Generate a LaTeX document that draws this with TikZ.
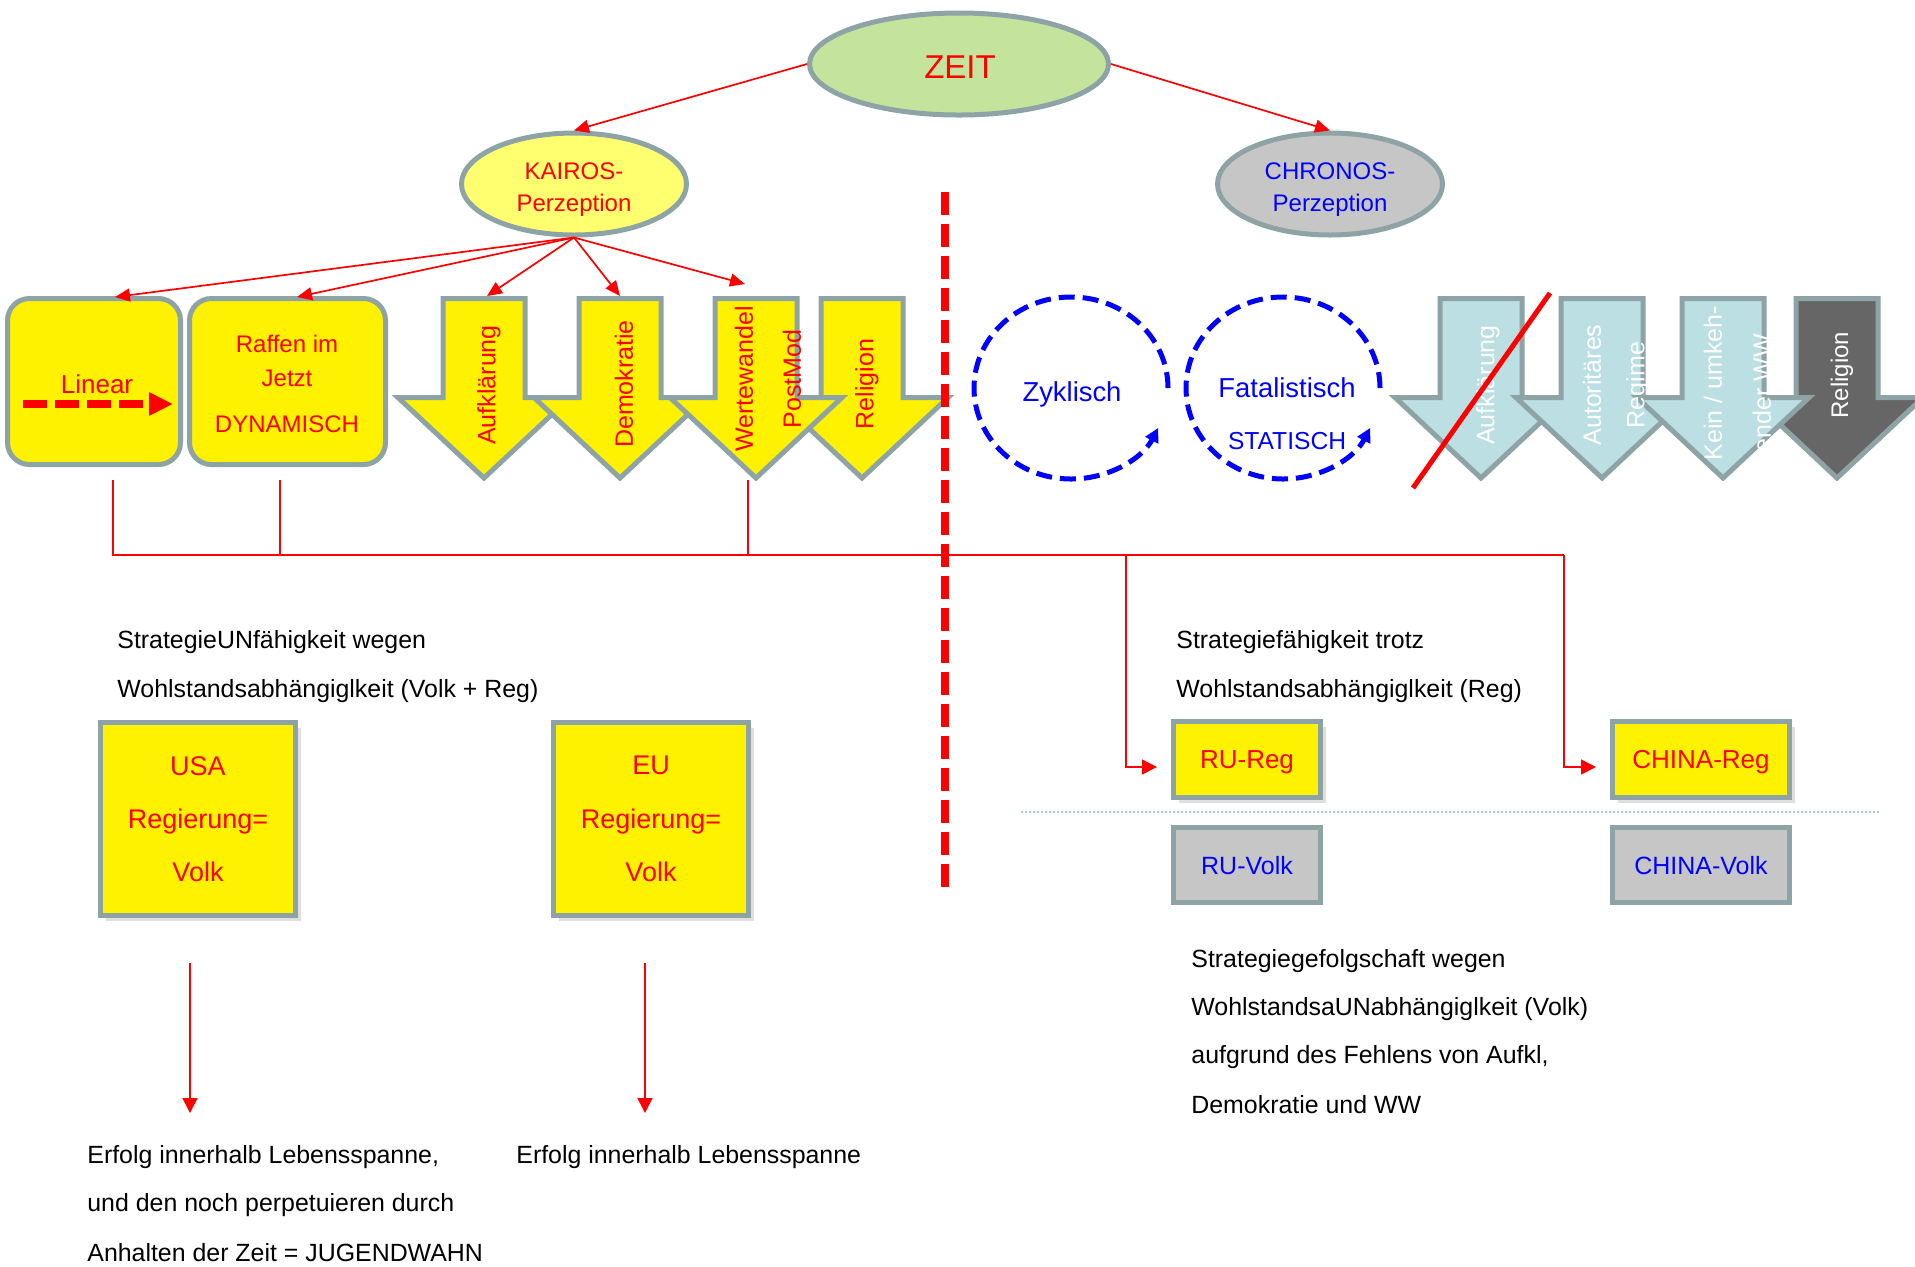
\documentclass[tikz,border=0pt]{standalone}
\usepackage{fontspec}
\setmainfont{Liberation Sans}
\usetikzlibrary{arrows.meta,shapes.geometric,shadows}
\definecolor{bord}{HTML}{8DA3A6}
\definecolor{zgreen}{HTML}{C4E49E}
\definecolor{kyel}{HTML}{FFFF70}
\definecolor{cgrey}{HTML}{C6C6C6}
\definecolor{lblue}{HTML}{BBDFE3}
\definecolor{dgrey}{HTML}{666666}
\definecolor{dotblue}{HTML}{9FD0D8}
\newcommand\fs[1]{\fontsize{#1pt}{#1pt}\selectfont}
\newcommand\dnarrow[2]{\draw[arrbord, fill=#2] ({#1-41},298.5) -- ({#1+41},298.5) -- ({#1+41},397.5) -- ({#1+86},397.5) -- (#1,478) -- ({#1-86},397.5) -- ({#1-41},397.5) -- cycle;}
\begin{document}
\begin{tikzpicture}[x=0.5pt,y=-0.5pt,
  ell/.style={ellipse, draw=bord, line width=2.5pt, inner sep=0},
  rbox/.style={rectangle, draw=bord, line width=2.5pt, inner sep=0, text depth=0pt},
  conn/.style={draw=red, line width=0.85pt, -{Triangle[length=7.5pt,width=6.5pt]}},
  bus/.style={draw=red, line width=0.75pt},
  bustip/.style={bus, -{Triangle[length=7.5pt,width=7.5pt]}},
  arrbord/.style={draw=bord, line width=2.5pt, line join=miter},
  albl/.style={rotate=90, font=\fs{12.5}, inner sep=0},
  body/.style={anchor=west, inner sep=0, font=\fs{12.45}, text=black},
  shad/.style={drop shadow={shadow xshift=2.5pt, shadow yshift=-2.5pt, opacity=0.25}},
  circarrow/.style={draw=blue, line width=2.5pt, dash pattern=on 8pt off 4pt, -{Triangle[length=7pt,width=7pt]}},
  plain/.style={inner sep=0}
]
\clip (0,0) rectangle (1915,1266);
\fill[white] (0,0) rectangle (1915,1266);

% ellipses
\node[ell, fill=zgreen, minimum width=149.5pt, minimum height=51pt] (zeit) at (959,64) {};
\node[plain, font=\fs{16.5}, text=red] (zeitT) at (960,67) {ZEIT};
\node[ell, fill=kyel, minimum width=112.5pt, minimum height=51pt] (kairos) at (574,184) {};
\node[plain, align=center, font=\fontsize{12pt}{16pt}\selectfont, text=red] (kairosT) at (574,190) {KAIROS-\\Perzeption};
\node[ell, fill=cgrey, minimum width=112.5pt, minimum height=51pt] (chronos) at (1330,184) {};
\node[plain, align=center, font=\fontsize{12pt}{16pt}\selectfont, text=blue] (chronosT) at (1330,190) {CHRONOS-\\Perzeption};

\draw[conn] (zeit.west) -- (kairos.north);
\draw[conn] (zeit.east) -- (chronos.north);

% left boxes
\node[rbox, rounded corners=11pt, fill=yellow, minimum width=86.5pt, minimum height=83pt] (linear) at (94,381.5) {};
\node[rbox, rounded corners=11pt, fill=yellow, minimum width=98pt, minimum height=83pt] (raffen) at (287.5,381.5) {};
\node[plain, font=\fs{13}, text=red] (linT) at (97,384) {Linear};
\coordinate (linA) at (23,404);
\coordinate (linB) at (173,404);
\draw[red, line width=4pt, dash pattern=on 12pt off 4pt, -{Triangle[length=12pt,width=11pt]}] (linA) -- (linB);
\node[plain, font=\fs{12}, text=red] (rafT1) at (287,344) {Raffen im};
\node[plain, font=\fs{12}, text=red] (rafT2) at (287,378) {Jetzt};
\node[plain, font=\fs{12}, text=red] (rafT3) at (287,424) {DYNAMISCH};

% yellow arrows
\dnarrow{862}{yellow}
\dnarrow{484}{yellow}
\dnarrow{620}{yellow}
\dnarrow{756}{yellow}
\node[albl, text=red] (tAuf) at (489,385) {Aufklärung};
\node[albl, text=red] (tDem) at (624,384) {Demokratie};
\node[albl, text=red] (tWer) at (744,379) {Wertewandel};
\node[albl, text=red] (tPost) at (792,379) {PostMod};
\node[albl, text=red] (tRel) at (867,384) {Religion};

% kairos connectors
\coordinate (linTop) at (115,297);
\coordinate (rafTop) at (297,297);
\coordinate (aufTop) at (487,296);
\coordinate (demTop) at (620,296);
\coordinate (werTop) at (745,284);
\draw[conn] (kairos.south) -- (linTop);
\draw[conn] (kairos.south) -- (rafTop);
\draw[conn] (kairos.south) -- (aufTop);
\draw[conn] (kairos.south) -- (demTop);
\draw[conn] (kairos.south) -- (werTop);

% right arrows
\dnarrow{1837}{dgrey}
\dnarrow{1481}{lblue}
\dnarrow{1602}{lblue}
\dnarrow{1723}{lblue}
\node[albl, text=white] (tAuf2) at (1488,385) {Aufklärung};
\node[albl, text=white] (tAut) at (1592,385) {Autoritäres};
\node[albl, text=white] (tReg) at (1638,385) {Regime};
\node[albl, text=white] (tKein) at (1713,383) {Kein / umkeh-};
\node[albl, text=white] (tEnd) at (1762,393) {ender WW};
\node[albl, text=white, font=\fs{12}] (tRel2) at (1842,375) {Religion};
\coordinate (strA) at (1413,488);
\coordinate (strB) at (1550,293);
\draw[red, line width=2.5pt] (strA) -- (strB);

% circles
\draw[circarrow] (1168,388) arc[start angle=0, end angle=334, x radius=48.5pt, y radius=45.5pt];
\draw[circarrow] (1380,388) arc[start angle=0, end angle=334, x radius=48.5pt, y radius=45.5pt];
\node[plain, font=\fs{13.7}, text=blue] (zyk) at (1072,394) {Zyklisch};
\node[plain, font=\fs{13.7}, text=blue] (fat) at (1287,388) {Fatalistisch};
\node[plain, font=\fs{12.3}, text=blue] (stat) at (1287,441) {STATISCH};

% big dashed divider
\coordinate (dvA) at (945,192);
\coordinate (dvB) at (945,888);
\draw[red, line width=4pt, dash pattern=on 11.5pt off 4.5pt] (dvA) -- (dvB);

% result boxes
\node[rbox, fill=yellow, shad, minimum width=97.5pt, minimum height=96.5pt, align=center, text=red, font=\fontsize{13.5pt}{26.7pt}\selectfont] (usa) at (198,819) {USA\\Regierung=\\Volk};
\node[rbox, fill=yellow, shad, minimum width=97.5pt, minimum height=96.5pt, align=center, text=red, font=\fontsize{13.5pt}{26.7pt}\selectfont] (eu) at (651,819) {EU\\Regierung=\\Volk};
\node[rbox, fill=yellow, shad, minimum width=73.5pt, minimum height=38pt, text=red, font=\fs{13}] (rureg) at (1247,759.5) {RU-Reg};
\node[rbox, fill=cgrey, minimum width=73.5pt, minimum height=37.5pt, text=blue, font=\fs{12.5}] (ruvolk) at (1247,865) {RU-Volk};
\node[rbox, fill=yellow, shad, minimum width=88.5pt, minimum height=38pt, text=red, font=\fs{13}] (chreg) at (1701,759.5) {CHINA-Reg};
\node[rbox, fill=cgrey, minimum width=88.5pt, minimum height=37.5pt, text=blue, font=\fs{12.5}] (chvolk) at (1701,865) {CHINA-Volk};

\coordinate (dotA) at (1021,812);
\coordinate (dotB) at (1881,812);
\draw[dotblue, line width=1pt, dash pattern=on 1pt off 1pt] (dotA) -- (dotB);

% bus connectors
\coordinate (linBot) at (113,480);
\coordinate (rafBot) at (280,480);
\coordinate (werBot) at (748,480);
\coordinate (busL) at (113,555);
\coordinate (busR) at (1564,555);
\coordinate (jRaf) at (280,555);
\coordinate (jWer) at (748,555);
\coordinate (jRu) at (1126,555);
\coordinate (kRu) at (1126,767);
\coordinate (kCh) at (1564,767);
\draw[bus] (linBot) -- (busL) -- (busR);
\draw[bus] (rafBot) -- (jRaf);
\draw[bus] (werBot) -- (jWer);
\draw[bustip, shorten >=7pt] (jRu) -- (kRu) -- (kRu -| rureg.west);
\draw[bustip, shorten >=7pt] (busR) -- (kCh) -- (kCh -| chreg.west);

\coordinate (usaA) at (190,963);
\coordinate (usaB) at (190,1113);
\coordinate (euA) at (645,963);
\coordinate (euB) at (645,1113);
\draw[bustip] (usaA) -- (usaB);
\draw[bustip] (euA) -- (euB);

% texts
\node[body] (s1) at (117,642) {StrategieUNfähigkeit wegen};
\node[body] (s2) at (117,691) {Wohlstandsabhängiglkeit (Volk + Reg)};
\node[body] (s3) at (1176,642) {Strategiefähigkeit trotz};
\node[body] (s4) at (1176,691) {Wohlstandsabhängiglkeit (Reg)};
\node[body] (s5) at (1191,961) {Strategiegefolgschaft wegen};
\node[body] (s6) at (1191,1009) {WohlstandsaUNabhängiglkeit (Volk)};
\node[body] (s7) at (1191,1057) {aufgrund des Fehlens von Aufkl,};
\node[body] (s8) at (1191,1105) {Demokratie und WW};
\node[body] (e1) at (87,1157) {Erfolg innerhalb Lebensspanne,};
\node[body] (e2) at (87,1205) {und den noch perpetuieren durch};
\node[body] (e3) at (87,1253) {Anhalten der Zeit = JUGENDWAHN};
\node[body] (e4) at (516,1157) {Erfolg innerhalb Lebensspanne};
\end{tikzpicture}
\end{document}
